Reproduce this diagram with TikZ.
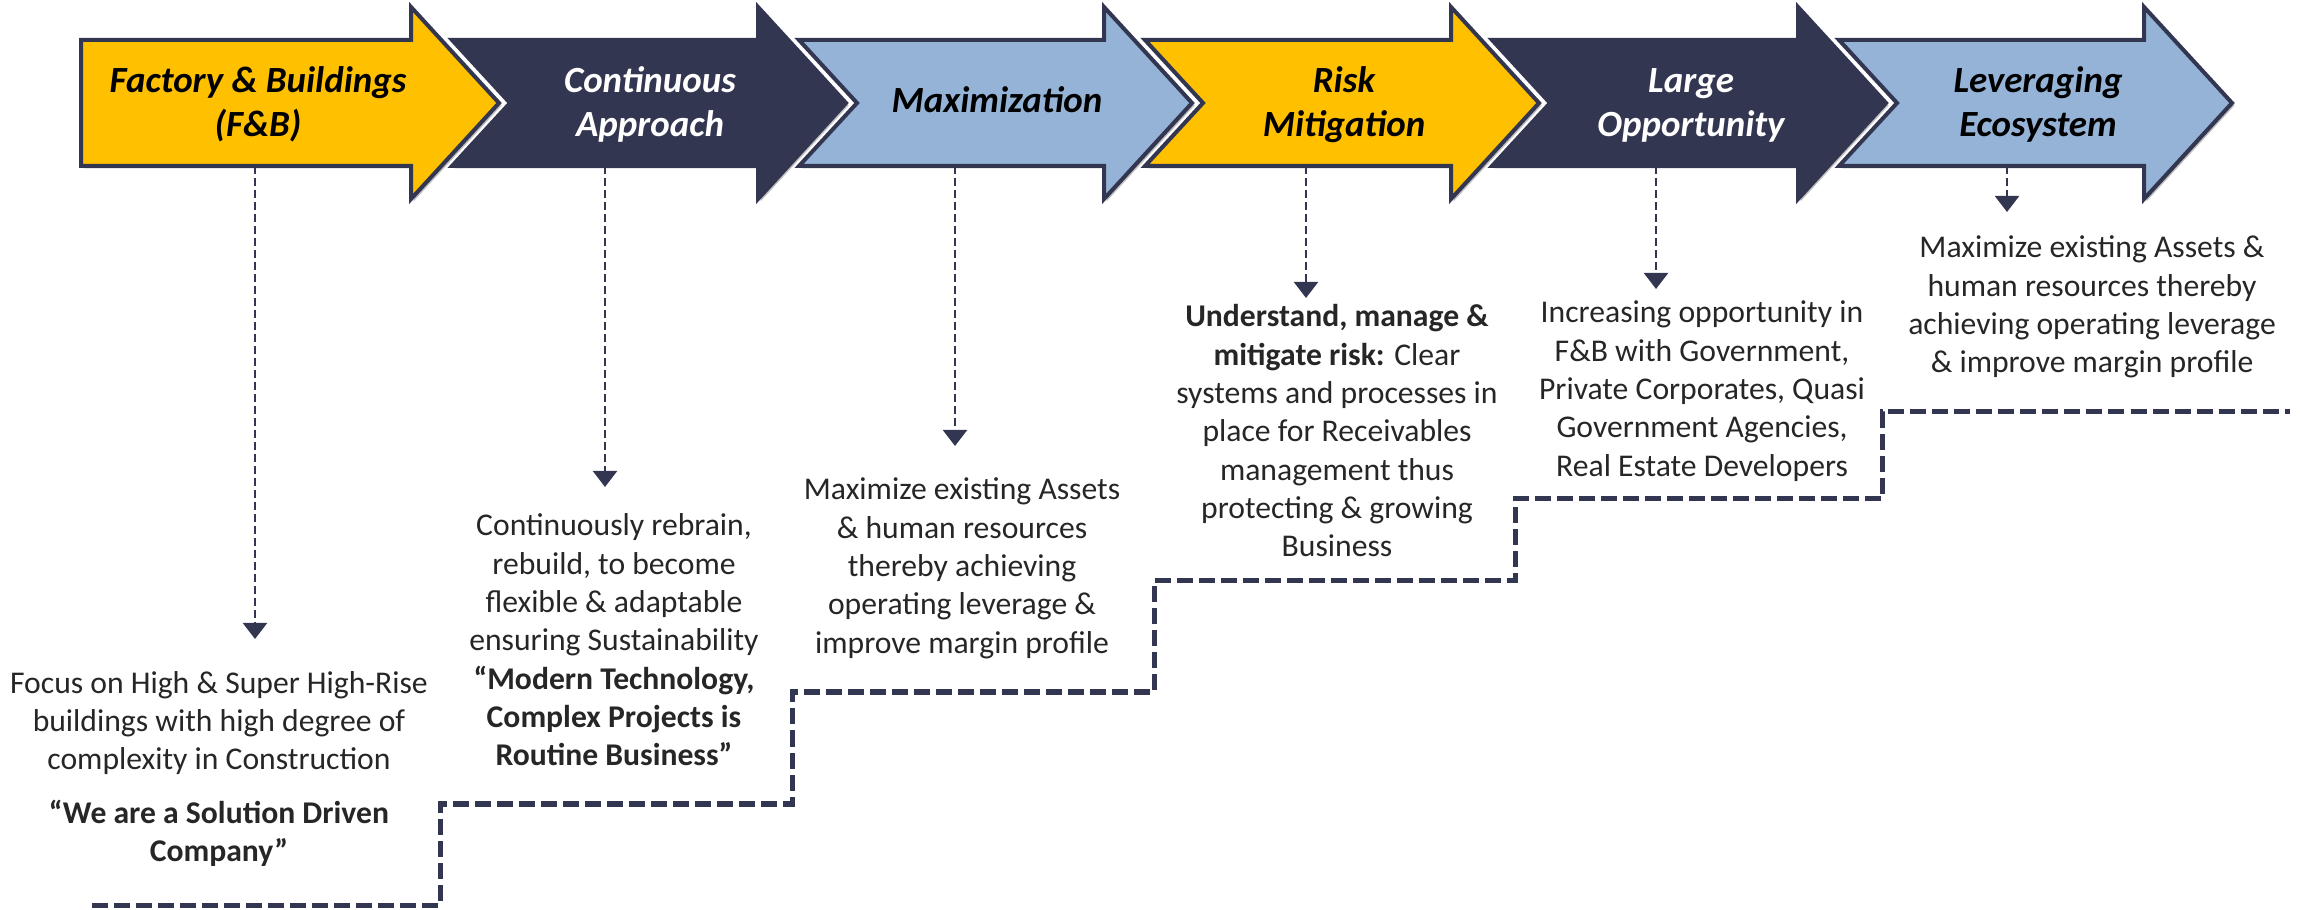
\documentclass[tikz,border=0pt]{standalone}
\usepackage{fontspec}
\setmainfont{Carlito}
\usetikzlibrary{arrows.meta,shadows}
\definecolor{navy}{HTML}{333651}
\definecolor{gold}{HTML}{FFC000}
\definecolor{sky}{HTML}{95B3D7}
\definecolor{txt}{HTML}{262626}
\begin{document}
\begin{tikzpicture}[x=0.01cm,y=-0.01cm,
  arr/.style={draw=navy,line width=0.04cm,line join=miter,
    drop shadow={shadow xshift=0.025cm,shadow yshift=-0.025cm,opacity=0.25,fill=black}},
  head/.style={font=\fontsize{10.5}{12.5}\selectfont\bfseries\itshape,inner sep=0,anchor=base},
  body/.style={font=\fontsize{9}{10.9}\selectfont,text=txt,inner sep=0,anchor=base},
  conn/.style={draw=navy,line width=0.022cm,dash pattern=on 0.08cm off 0.04cm,
    -{Triangle[width=0.24cm,length=0.16cm]}},
  stair/.style={draw=navy,line width=0.05cm,dash pattern=on 0.16cm off 0.06cm}]
\useasboundingbox (0,0) rectangle (2300,910);

% staircase
\draw[stair] (92,905) -- (440,905) -- (440,804) -- (792,804) -- (792,692) -- (1154,692)
  -- (1154,581) -- (1515,581) -- (1515,499) -- (1882,499) -- (1882,412) -- (2290,412);

% arrows
\path[arr,fill=gold] (81,40) -- (411,40) -- (411,7) -- (499,103) -- (411,199) -- (411,166) -- (81,166) -- cycle;
\path[arr,fill=navy] (452,40) -- (758,40) -- (758,7) -- (846,103) -- (758,199) -- (758,166) -- (452,166) -- (510,103) -- cycle;
\path[arr,fill=sky] (799,40) -- (1104,40) -- (1104,7) -- (1192,103) -- (1104,199) -- (1104,166) -- (799,166) -- (857,103) -- cycle;
\path[arr,fill=gold] (1145,40) -- (1451,40) -- (1451,7) -- (1539,103) -- (1451,199) -- (1451,166) -- (1145,166) -- (1203,103) -- cycle;
\path[arr,fill=navy] (1492,40) -- (1798,40) -- (1798,7) -- (1886,103) -- (1798,199) -- (1798,166) -- (1492,166) -- (1550,103) -- cycle;
\path[arr,fill=sky] (1839,40) -- (2144,40) -- (2144,7) -- (2232,103) -- (2144,199) -- (2144,166) -- (1839,166) -- (1897,103) -- cycle;

% arrow titles
\node[head,text=black] (h1) at (258,93) {\begin{tabular}[t]{@{}c@{}}Factory \& Buildings\\(F\&B)\end{tabular}};
\node[head,text=white] (h2) at (650,93) {\begin{tabular}[t]{@{}c@{}}Continuous\\Approach\end{tabular}};
\node[head,text=black] (h3) at (997,113) {Maximization};
\node[head,text=black] (h4) at (1344,93) {\begin{tabular}[t]{@{}c@{}}Risk\\Mitigation\end{tabular}};
\node[head,text=white] (h5) at (1691,93) {\begin{tabular}[t]{@{}c@{}}Large\\Opportunity\end{tabular}};
\node[head,text=black] (h6) at (2038,93) {\begin{tabular}[t]{@{}c@{}}Leveraging\\Ecosystem\end{tabular}};

% text blocks
\node[body] (b1) at (219,693) {\begin{tabular}[t]{@{}c@{}}Focus on High \& Super High-Rise\\buildings with high degree of\\complexity in Construction\\[0.15cm]
  \textbf{“We are a Solution Driven}\\\textbf{Company”}\end{tabular}};
\node[body] (b2) at (614,536) {\begin{tabular}[t]{@{}c@{}}Continuously rebrain,\\rebuild, to become\\flexible \& adaptable\\ensuring Sustainability\\
  \textbf{“Modern Technology,}\\\textbf{Complex Projects is}\\\textbf{Routine Business”}\end{tabular}};
\node[body] (b3) at (962,500) {\begin{tabular}[t]{@{}c@{}}Maximize existing Assets\\\& human resources\\thereby achieving\\operating leverage \&\\improve margin profile\end{tabular}};
\node[body] (b4) at (1337,327) {\begin{tabular}[t]{@{}c@{}}\textbf{Understand, manage \&}\\\textbf{mitigate risk:} Clear\\systems and processes in\\place for Receivables\\management thus\\protecting \& growing\\Business\end{tabular}};
\node[body] (b5) at (1702,323) {\begin{tabular}[t]{@{}c@{}}Increasing opportunity in\\F\&B with Government,\\Private Corporates, Quasi\\Government Agencies,\\Real Estate Developers\end{tabular}};
\node[body] (b6) at (2092,258) {\begin{tabular}[t]{@{}c@{}}Maximize existing Assets \&\\human resources thereby\\achieving operating leverage\\\& improve margin profile\end{tabular}};

% connectors
\coordinate (c1) at (255,166);  \coordinate (e1) at (255,639);
\coordinate (c2) at (605,166);  \coordinate (e2) at (605,487);
\coordinate (c3) at (955,166);  \coordinate (e3) at (955,446);
\coordinate (c4) at (1306,166); \coordinate (e4) at (1306,298);
\coordinate (c5) at (1656,166); \coordinate (e5) at (1656,289);
\coordinate (c6) at (2007,166); \coordinate (e6) at (2007,212);
\foreach \i in {1,...,6} {\draw[conn] (c\i) -- (e\i);}
\end{tikzpicture}
\end{document}
